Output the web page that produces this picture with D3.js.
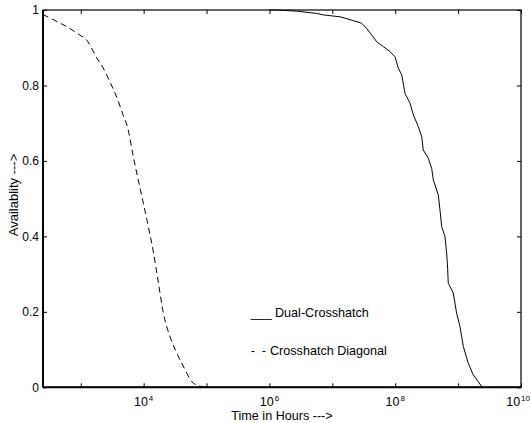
<!DOCTYPE html>
<html><head><meta charset="utf-8">
<script src="https://cdn.jsdelivr.net/npm/d3@7"></script>
<style>body{margin:0;background:#fff}svg{display:block;font-family:"Liberation Sans",Arial,sans-serif}</style>
</head><body><svg id="c" width="531" height="423"></svg>
<script>
// Crosshatch Diagonal (dashed)
const diagHours = [251,389,598,973,1245,1795,2259,2917,3733,4699,5585,6855,8222,9886,11858,14256,16904,20559,26242,33574,45499,58076,78705,100000];
const diagAvail = [0.988,0.972,0.956,0.933,0.920,0.873,0.847,0.809,0.769,0.722,0.687,0.611,0.549,0.488,0.426,0.359,0.284,0.197,0.134,0.091,0.047,0.015,0.003,0];
// Dual-Crosshatch (solid)
const dualHours = [1.0e6,1.30e6,2.71e6,5.64e6,7.18e6,1.32e7,2.15e7,2.93e7,3.52e7,4.23e7,5.07e7,6.46e7,8.26e7,9.91e7,1.12e8,1.27e8,1.43e8,1.72e8,1.94e8,2.33e8,2.64e8,2.79e8,3.36e8,3.80e8,4.03e8,4.84e8,5.15e8,5.48e8,6.18e8,6.58e8,6.82e8,6.97e8,8.38e8,9.48e8,1.07e9,1.21e9,1.45e9,1.74e9,2.09e9,2.37e9,2.45e9];
const dualAvail = [1,1,0.997,0.991,0.987,0.982,0.972,0.965,0.951,0.934,0.916,0.903,0.890,0.876,0.846,0.828,0.779,0.753,0.722,0.691,0.664,0.629,0.607,0.580,0.550,0.510,0.470,0.426,0.400,0.355,0.315,0.276,0.250,0.196,0.161,0.108,0.064,0.033,0.015,0.002,0];
const seriesNames = ["Dual-Crosshatch","Crosshatch Diagonal"];
const xDomain = [251, 1e10];
const xTicks = [1e3,1e4,1e5,1e6,1e7,1e8,1e9,1e10];
const xLabelBases = ["10","10","10","10"];
const xLabelExps = ["4","6","8","10"];
const xLabelVals = [1e4,1e6,1e8,1e10];
const yTicks = [0,0.2,0.4,0.6,0.8,1];
const yTickLabels = ["0","0.2","0.4","0.6","0.8","1"];
const xTitle = "Time in Hours --->";
const yTitle = "Availablity --->";

const W=531,L=43,R=521,T=10,B=387.3;
const svg=d3.select("#c");
const x=d3.scaleLog().domain(xDomain).range([L,R]);
const y=d3.scaleLinear().domain([0,1]).range([B,T]);

// ticks inward
const gB=svg.append("g").attr("transform",`translate(0,${B})`)
  .call(d3.axisBottom(x).tickValues(xTicks).tickSize(-4).tickSizeOuter(0).tickFormat(""));
const gT=svg.append("g").attr("transform",`translate(0,${T})`)
  .call(d3.axisTop(x).tickValues(xTicks).tickSize(-4).tickSizeOuter(0).tickFormat(""));
const gL=svg.append("g").attr("transform",`translate(${L},0)`)
  .call(d3.axisLeft(y).tickValues(yTicks).tickSize(-4).tickSizeOuter(0).tickFormat((d,i)=>yTickLabels[i]));
const gR=svg.append("g").attr("transform",`translate(${R},0)`)
  .call(d3.axisRight(y).tickValues(yTicks).tickSize(-4).tickSizeOuter(0).tickFormat(""));
[gB,gT,gL,gR].forEach(g=>{g.selectAll(".domain").remove();g.selectAll("line").attr("stroke","#000");});
gL.selectAll("text").attr("x",-4).attr("font-size",12).attr("font-family","Liberation Sans, Arial").attr("fill","#000");

// frame
svg.append("rect").attr("x",L).attr("y",T).attr("width",R-L).attr("height",B-T).attr("fill","none").attr("stroke","#000").attr("stroke-width",1.2);
svg.append("line").attr("x1",L).attr("x2",L).attr("y1",T).attr("y2",B).attr("stroke","#000").attr("stroke-width",2);
svg.append("line").attr("x1",L).attr("x2",R).attr("y1",B).attr("y2",B).attr("stroke","#000").attr("stroke-width",2);

// x labels with superscripts (last one kept inside the page edge)
const xl=svg.append("g").selectAll("text").data(xLabelVals).join("text")
  .attr("x",(d,i)=>i===xLabelVals.length-1?W-1:x(d)).attr("y",406)
  .attr("text-anchor",(d,i)=>i===xLabelVals.length-1?"end":"middle").attr("font-size",12.5);
xl.append("tspan").text((d,i)=>xLabelBases[i]);
xl.append("tspan").attr("dy",-5.5).attr("dx",1).attr("font-size",8).text((d,i)=>xLabelExps[i]);

// titles
svg.append("text").attr("x",(L+R)/2).attr("y",419.5).attr("text-anchor","middle").attr("font-size",12.6).text(xTitle);
svg.append("text").attr("transform",`translate(18,195) rotate(-90)`).attr("text-anchor","middle").attr("font-size",13).text(yTitle);

// lines
const line=d3.line().x(d=>x(d[0])).y(d=>y(d[1]));
const smooth=d3.line().x(d=>x(d[0])).y(d=>y(d[1])).curve(d3.curveMonotoneX);
svg.append("path").datum(dualHours.map((h,i)=>[h,dualAvail[i]])).attr("d",line)
  .attr("fill","none").attr("stroke","#000").attr("stroke-width",1);
svg.append("path").datum(diagHours.map((h,i)=>[h,diagAvail[i]])).attr("d",smooth)
  .attr("fill","none").attr("stroke","#000").attr("stroke-width",1).attr("stroke-dasharray","6,4");

// legend (text-style, as in original)
svg.append("text").attr("x",250.7).attr("y",316.7).attr("font-size",12.6).text("___");
svg.append("text").attr("x",275).attr("y",316.7).attr("font-size",12.6).text(seriesNames[0]);
svg.append("text").attr("x",250.7).attr("y",355).attr("font-size",12.6).text("-");
svg.append("text").attr("x",261.7).attr("y",355).attr("font-size",12.6).text("-");
svg.append("text").attr("x",270).attr("y",355).attr("font-size",12.6).text(seriesNames[1]);
</script></body></html>
